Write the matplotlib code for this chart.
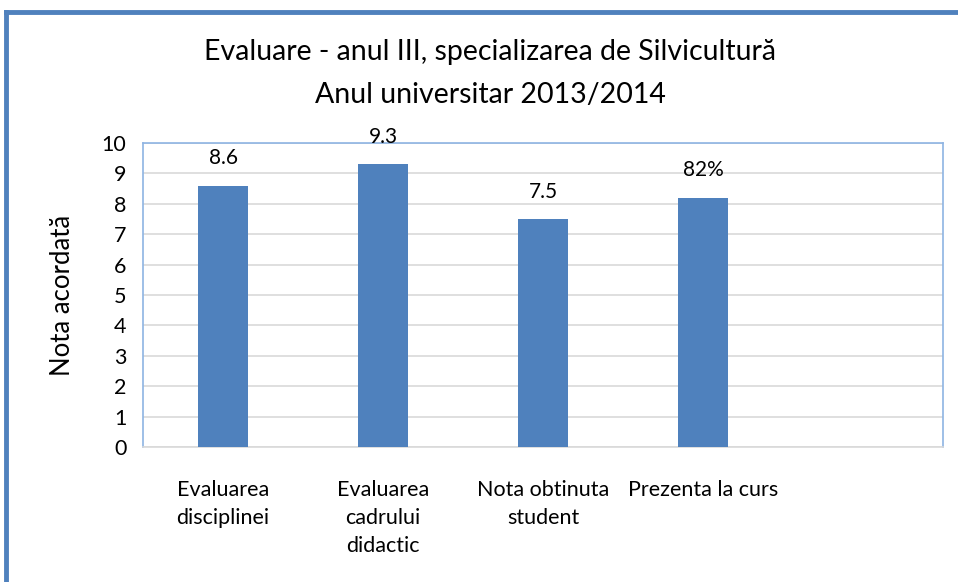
import matplotlib.pyplot as plt
from matplotlib.lines import Line2D

plt.rcParams['font.family'] = ['Liberation Sans Narrow', 'Lato', 'DejaVu Sans']

categories = ['Evaluarea\ndisciplinei', 'Evaluarea\ncadrului\ndidactic',
              'Nota obtinuta\nstudent', 'Prezenta la curs', '']
values = [8.6, 9.3, 7.5, 8.2]
value_labels = ['8.6', '9.3', '7.5', '82%']

bar_color = '#4F81BD'

fig = plt.figure(figsize=(9.58, 5.82), dpi=100)
ax = fig.add_axes([143 / 958, 1 - 447 / 582, 800 / 958, 304 / 582])

x = list(range(len(categories)))
ax.bar(x[:len(values)], values, width=0.31, color=bar_color, zorder=3)
for xi, v, lab in zip(x, values, value_labels):
    ax.text(xi, v + 0.9, lab, ha='center', va='center', fontsize=15)

ax.set_xlim(-0.5, len(categories) - 0.5)
ax.set_ylim(0, 10)
ax.set_yticks(range(0, 11))
ax.set_xticks(x)
ax.set_xticklabels(categories, fontsize=15.5, va='top', linespacing=1.5)
ax.tick_params(axis='x', length=0, pad=24)
ax.tick_params(axis='y', length=0, labelsize=15.5, pad=12)
ax.grid(axis='y', color='#d9d9d9', linewidth=1.2, zorder=0)
for side in ['top', 'left', 'right']:
    ax.spines[side].set_color('#8EB4E3')
    ax.spines[side].set_linewidth(1.2)
ax.spines['bottom'].set_color('#d9d9d9')
ax.spines['bottom'].set_linewidth(1.2)

ax.set_ylabel('Nota acordată', fontsize=18.5, labelpad=19)

fig.text(490 / 958, 1 - 52 / 582, 'Evaluare - anul III, specializarea de Silvicultură',
         ha='center', va='center', fontsize=20.5)
fig.text(490 / 958, 1 - 95 / 582, 'Anul universitar 2013/2014',
         ha='center', va='center', fontsize=20.5)

# outer frame (blue border on top and left)
fig.add_artist(Line2D([6 / 958, 6 / 958], [0, 1 - 12 / 582], color=bar_color, linewidth=3.5))
fig.add_artist(Line2D([6 / 958, 1], [1 - 12 / 582, 1 - 12 / 582], color=bar_color, linewidth=3.5))

fig.savefig('out.png', dpi=100)
